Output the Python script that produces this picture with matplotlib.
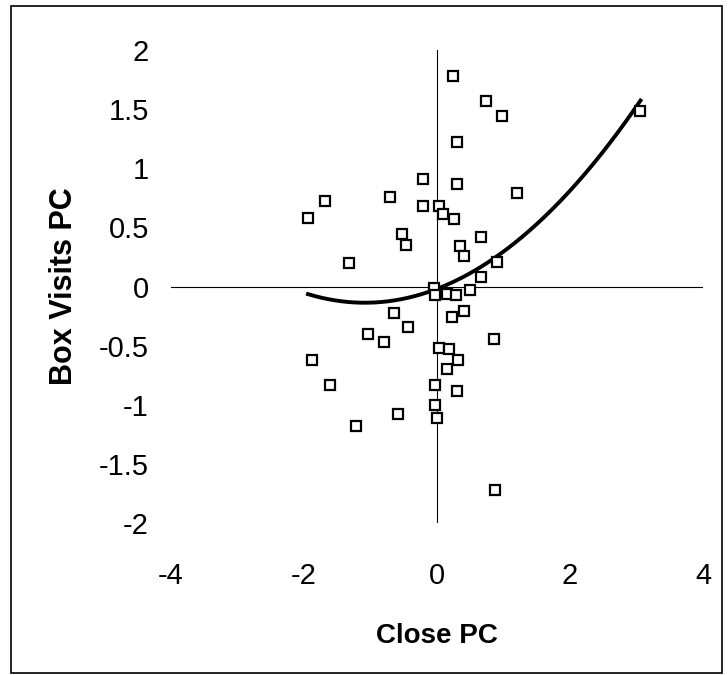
import numpy as np
import matplotlib.pyplot as plt
from matplotlib.patches import Rectangle

plt.rcParams['font.family'] = ['Liberation Sans', 'DejaVu Sans']

# principal component scores per subject
close_pc = [-1.94, -1.68, -1.33, -0.71, -0.21, -0.21, -0.53, -0.47, 0.03, 0.09,
            0.26, 0.30, 0.24, 0.74, 0.97, 0.30, 1.20, 0.66, 0.35, 0.41,
            0.90, 0.66, 3.06, 0.49, -0.05, -0.03, 0.15, 0.28, 0.41, 0.23,
            0.85, 0.03, 0.18, 0.32, 0.15, -0.03, 0.30, -0.03, 0.00, 0.87,
            -0.64, -0.44, -1.04, -0.80, -1.88, -1.61, -0.59, -1.22]
box_visits_pc = [0.58, 0.72, 0.20, 0.76, 0.91, 0.68, 0.44, 0.35, 0.68, 0.61,
                 0.57, 0.87, 1.78, 1.57, 1.44, 1.22, 0.79, 0.42, 0.34, 0.26,
                 0.21, 0.08, 1.48, -0.03, -0.01, -0.07, -0.06, -0.07, -0.21, -0.26,
                 -0.44, -0.52, -0.53, -0.62, -0.70, -0.83, -0.88, -1.00, -1.11, -1.72,
                 -0.22, -0.34, -0.40, -0.47, -0.62, -0.83, -1.08, -1.18]

# second-order polynomial trendline (highest power first)
trend_coef = [0.0995, 0.216, -0.02]

x_ticks = [-4, -2, 0, 2, 4]
y_ticks = [-2, -1.5, -1, -0.5, 0, 0.5, 1, 1.5, 2]

fig = plt.figure(figsize=(7.28, 6.75), dpi=100)
ax = fig.add_axes([171 / 728, 1 - 523 / 675, 532 / 728, 473 / 675])

# axes cross at the origin
ax.axhline(0, color='black', lw=0.8, zorder=1)
ax.axvline(0, color='black', lw=0.8, zorder=1)

ax.plot(close_pc, box_visits_pc, linestyle='none', marker='s', ms=7.5,
        mfc='white', mec='black', mew=1.6, zorder=3)

xs = np.linspace(min(close_pc), max(close_pc), 200)
ax.plot(xs, np.polyval(trend_coef, xs), color='black', lw=2.8, zorder=2)

ax.set_xlim(-4, 4)
ax.set_ylim(-2, 2)
ax.set_xticks(x_ticks)
ax.set_yticks(y_ticks)
ax.set_xticklabels([f'{t:g}' for t in x_ticks])
ax.set_yticklabels([f'{t:g}' for t in y_ticks])
ax.tick_params(axis='both', length=0, labelsize=21)
ax.tick_params(axis='y', pad=16)
ax.tick_params(axis='x', pad=28)
for s in ax.spines.values():
    s.set_visible(False)

ax.set_xlabel('Close PC', fontsize=20, fontweight='bold', labelpad=24)
ax.set_ylabel('Box Visits PC', fontsize=22, fontweight='bold', labelpad=14)

# outer border around the whole chart
fig.patches.append(Rectangle((11 / 728, 1 - 673 / 675), 711 / 728, 667 / 675,
                             transform=fig.transFigure, fill=False,
                             edgecolor='black', lw=1.2))

fig.savefig('out.png', dpi=100)
